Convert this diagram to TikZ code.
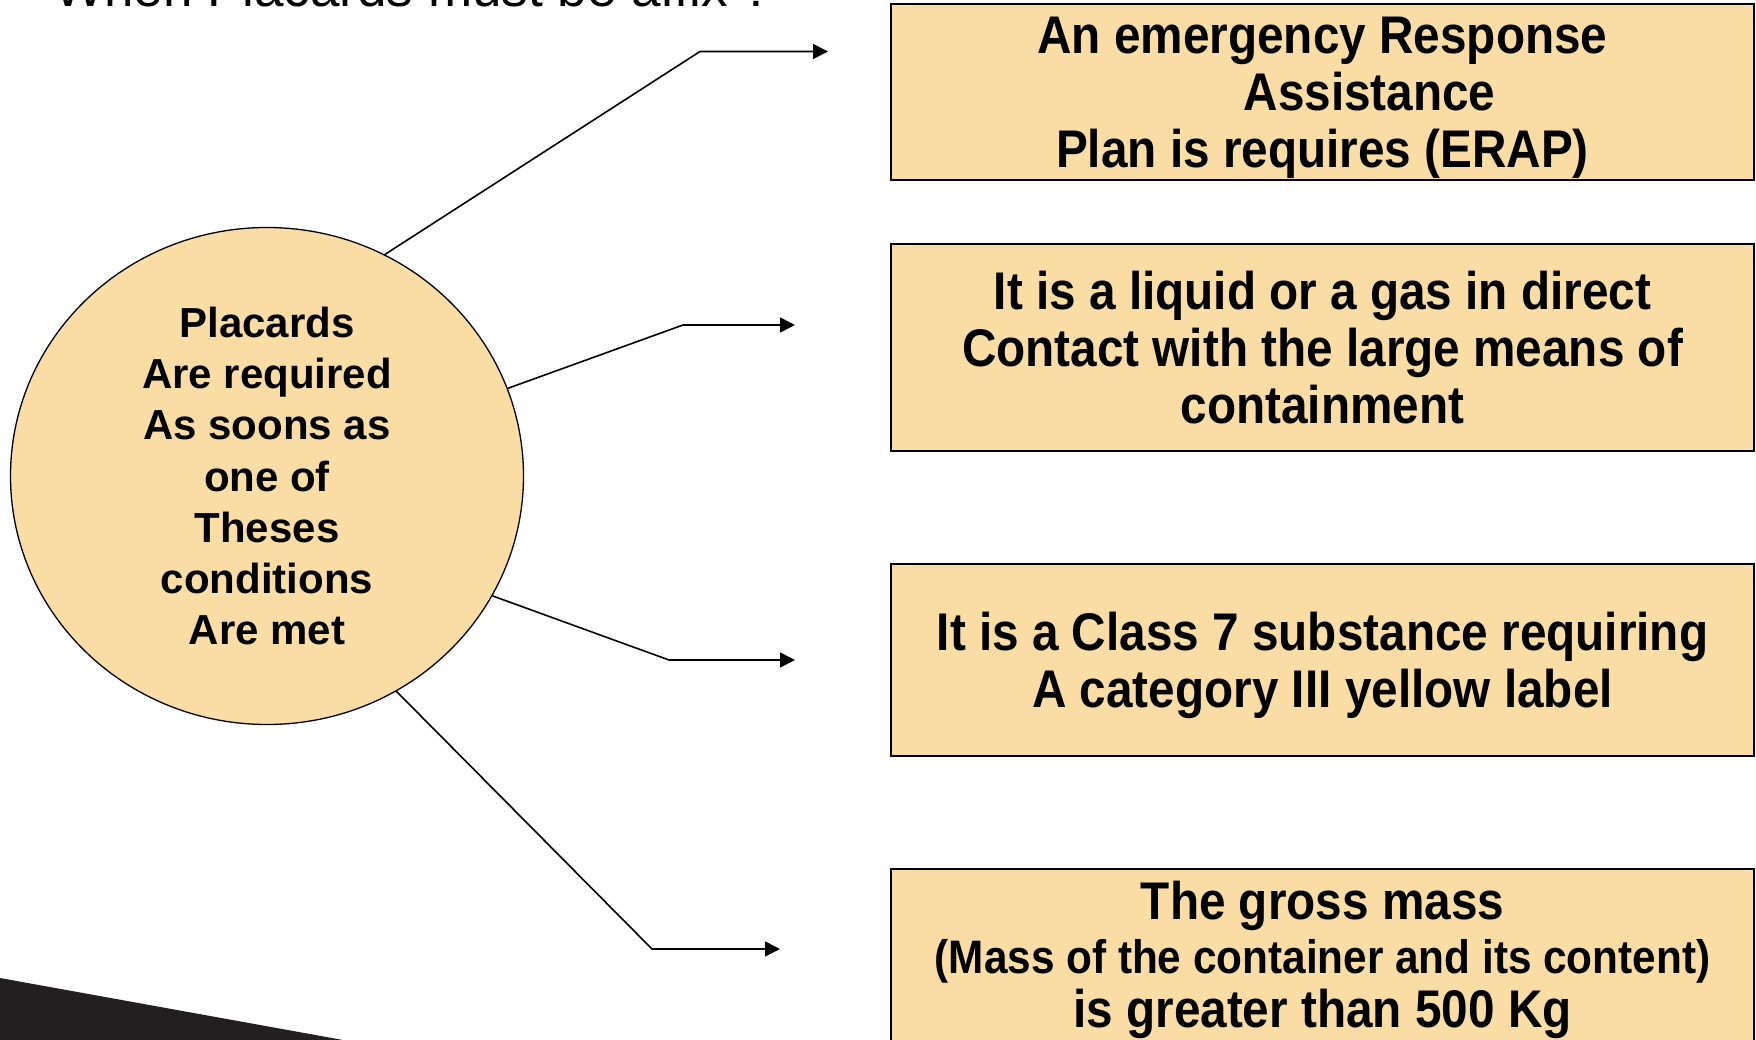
\documentclass[tikz,border=0pt]{standalone}
\usepackage{fontspec}
\setmainfont{Liberation Sans}
\newfontfamily\boxfont[FakeStretch=0.9]{Liberation Sans}
\usetikzlibrary{arrows.meta,shapes.geometric}
\definecolor{placardfill}{RGB}{250,220,165}
\definecolor{wedgeblack}{RGB}{35,31,32}

\begin{document}
\begin{tikzpicture}[x=1pt,y=-1pt]
		\tikzset{cond/.style={draw,line width=1.6pt,fill=placardfill,minimum width=863pt,inner sep=0pt,text depth=0pt,align=center,font=\boxfont\bfseries\fontsize{53}{57}\selectfont}};
		\tikzset{->-/.style={line width=1.6pt,-{Triangle[length=15pt,width=15pt]}}};
		
		\useasboundingbox (0,0) rectangle (1756,1040);
		\clip (0,0) rectangle (1756,1040);
		
		% title, cut off at the top of the slide
		\node (title) at (54,7) [anchor=base west,inner sep=0pt,font=\fontsize{53}{60}\selectfont] {When Placards must be affix ?};
		\fill [wedgeblack] (0,978) -- (343,1040) -- (0,1040) -- cycle;
		
		\node (circ) at (267,476) [ellipse,draw,line width=1.3pt,fill=placardfill,minimum width=513pt,minimum height=497pt,inner sep=0pt,align=center,font=\bfseries\fontsize{42}{51.3}\selectfont]
		{Placards\\Are required\\As soons as\\one of\\Theses\\conditions\\Are met};
		
		\node (erap) at (1322.5,92) [cond,minimum height=176pt] {An emergency Response\\\hspace*{94pt}Assistance\\Plan is requires (ERAP)};
		\node (liquid) at (1322.5,347.5) [cond,minimum height=207pt] {It is a liquid or a gas in direct\\Contact with the large means of\\containment};
		\node (class) at (1322.5,660) [cond,minimum height=192pt] {It is a Class 7 substance requiring\\A category III yellow label};
		\node (mass) at (1322.5,868) [cond,anchor=north,inner ysep=12pt,text depth=24pt,font=\boxfont\bfseries\fontsize{53}{54}\selectfont]
		{The gross mass\\{\fontsize{47}{54}\selectfont (Mass of the container and its content)}\\is greater than 500 Kg};
		
		\coordinate (bend1) at (700,51.5); \coordinate (tip1) at (828,51.5);
		\coordinate (bend2) at (683,325); \coordinate (tip2) at (795,325);
		\coordinate (bend3) at (669,660); \coordinate (tip3) at (795,660);
		\coordinate (bend4) at (652,949); \coordinate (tip4) at (780,949);
		\foreach \i/\a in {1/62,2/20,3/-28,4/-59}
		\draw [->-] (circ.\a) -- (bend\i) -- (tip\i);
\end{tikzpicture}
\end{document}
